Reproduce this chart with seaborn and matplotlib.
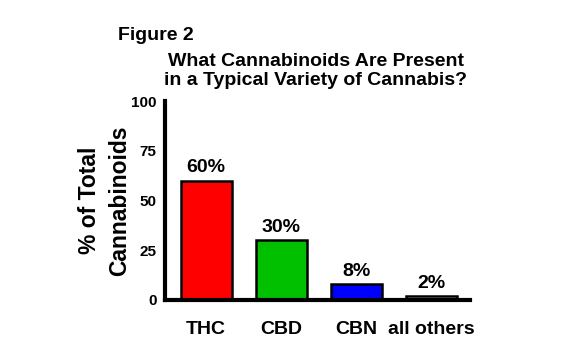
import matplotlib
matplotlib.use("Agg")
import matplotlib.pyplot as plt
import seaborn as sns
import pandas as pd

categories = ["THC", "CBD", "CBN", "all others"]
values = [60, 30, 8, 2]
bar_labels = ["60%", "30%", "8%", "2%"]
colors = ["#ff0000", "#00c000", "#0000ff", "#ffffff"]
yticks = [0, 25, 50, 75, 100]

sns.set_style("white")
plt.rcParams["font.family"] = ["Liberation Sans", "DejaVu Sans"]
plt.rcParams["text.color"] = "black"
plt.rcParams["axes.labelcolor"] = "black"
plt.rcParams["xtick.color"] = "black"
plt.rcParams["ytick.color"] = "black"

df = pd.DataFrame({"cat": categories, "val": values})

fig = plt.figure(figsize=(5.76, 3.6), dpi=100)
ax = fig.add_axes([0.2865, 0.1667, 0.816 - 0.2865, 0.7194 - 0.1667])
sns.barplot(data=df, x="cat", y="val", hue="cat", palette=colors, legend=False,
            width=0.68, edgecolor="black", linewidth=1.8, ax=ax, saturation=1)

ax.set_xlim(-0.55, 3.52)
ax.set_ylim(0, 100)
ax.set_yticks(yticks)
ax.set_yticklabels([str(t) for t in yticks], fontsize=11, fontweight="bold")
ax.set_xticks(range(len(categories)))
ax.set_xticklabels(categories, fontsize=14, fontweight="bold")
ax.tick_params(axis="both", direction="out", length=5, width=2.5, color="black")
ax.tick_params(axis="x", pad=10)
ax.tick_params(axis="y", pad=1)
for s in ["top", "right"]:
    ax.spines[s].set_visible(False)
for s in ["left", "bottom"]:
    ax.spines[s].set_linewidth(3)
    ax.spines[s].set_color("black")
ax.set_xlabel("")
ax.set_ylabel("% of Total\nCannabinoids", fontsize=16.5, fontweight="bold",
              linespacing=1.4)
ax.yaxis.set_label_coords((131 - 165) / 305, 0.5)

for i, (v, lab) in enumerate(zip(values, bar_labels)):
    ax.annotate(lab, (i, v), xytext=(0, 3), textcoords="offset points",
                ha="center", va="bottom", fontsize=14, fontweight="bold")

fig.text(118 / 576, 1 - 36 / 360, "Figure 2", fontsize=14, fontweight="bold",
         ha="left", va="center")
fig.text(316 / 576, 1 - 71 / 360, "What Cannabinoids Are Present\nin a Typical Variety of Cannabis?",
         fontsize=14, fontweight="bold", ha="center", va="center", linespacing=1.15)

fig.savefig("out.png", dpi=100)
